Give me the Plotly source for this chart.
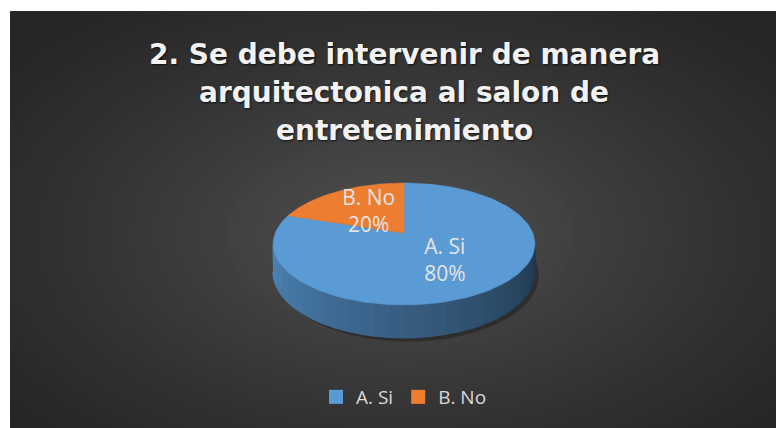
import numpy as np
import plotly.graph_objects as go

labels = ["A. Si", "B. No"]
values = [80, 20]
colors = ["#5b9bd5", "#ed7d31"]
title_lines = ["2. Se debe intervenir de manera", "arquitectonica al salon de", "entretenimiento"]

# the page body adds an 8px margin, so the figure is 8px smaller and the
# axes run in page pixel coordinates (8..784, 8..428)
OFF = 8
W, H = 784 - OFF, 428 - OFF

# pie geometry in pixels, with a simple perspective for the 3D look
CX, CY = 404, 233
A, B, K = 128.8, 59.0, 0.18
DEPTH = 27


def proj(phi_deg, r=1.0, drop=0.0):
    phi = np.radians(phi_deg)
    u = r * np.cos(phi)
    v = r * np.sin(phi)
    d = 1 + K * v
    return CX + A * u / d, CY + (-B * v + drop) / d


def shade(hex_color, f):
    h = hex_color.lstrip("#")
    rgb = [int(h[i:i + 2], 16) for i in (0, 2, 4)]
    return "rgb(%d,%d,%d)" % tuple(int(c * f) for c in rgb)


# slice angle ranges: first slice at 12 o'clock, clockwise
total = sum(values)
starts, ends = [], []
a = 90.0
for v in values:
    starts.append(a)
    a -= v / total * 360
    ends.append(a)


def slice_at(phi):
    for i in range(len(values)):
        lo, hi = ends[i], starts[i]
        p = phi
        while p > hi:
            p -= 360
        while p < lo:
            p += 360
        if lo <= p <= hi:
            return i
    return 0


fig = go.Figure()

# shadow under the pie
ang = np.linspace(0, 360, 200)
sx, sy = proj(ang, 1.0, DEPTH + 3)
fig.add_trace(go.Scatter(x=sx + 4, y=sy, fill="toself", mode="none",
                         fillcolor="rgba(0,0,0,0.28)", showlegend=False, hoverinfo="skip"))

# side wall (visible front part)
phi_l = 180 + np.degrees(np.arcsin(K))
phi_r = 360 - np.degrees(np.arcsin(K))
nseg = 30
edges = np.linspace(phi_l, phi_r, nseg + 1)
for j in range(nseg):
    seg = np.linspace(edges[j], edges[j + 1], 8)
    tx, ty = proj(seg)
    bx, by = proj(seg[::-1], 1.0, DEPTH)
    t = (j + 0.5) / nseg
    col = shade(colors[slice_at((edges[j] + edges[j + 1]) / 2)], 0.86 - 0.5 * t)
    fig.add_trace(go.Scatter(x=np.concatenate([tx, bx]), y=np.concatenate([ty, by]),
                             fill="toself", mode="lines", line=dict(color=col, width=1.2),
                             fillcolor=col, showlegend=False, hoverinfo="skip"))

# top surface wedges
for i in range(len(values)):
    arc = np.linspace(starts[i], ends[i], 120)
    ax_, ay_ = proj(arc)
    x = np.concatenate([[CX], ax_, [CX]])
    y = np.concatenate([[CY], ay_, [CY]])
    fig.add_trace(go.Scatter(x=x, y=y, fill="toself", mode="lines",
                             line=dict(color=colors[i], width=0.5),
                             fillcolor=colors[i], showlegend=False, hoverinfo="skip"))

# data labels
for i in range(len(values)):
    mid = (starts[i] + ends[i]) / 2
    lx, ly = proj(mid, 0.5, 3)
    fig.add_trace(go.Scatter(x=[lx], y=[ly], mode="text",
                             text=["%s<br>%d%%" % (labels[i], round(values[i] / total * 100))],
                             textfont=dict(family="Open Sans", size=21, color="#e4e4e4"),
                             textposition="middle center", showlegend=False, hoverinfo="skip"))

# legend entries
for i in range(len(values)):
    fig.add_trace(go.Scatter(x=[None], y=[None], mode="markers", name=labels[i],
                             marker=dict(symbol="square", size=14, color=colors[i])))

# background: radial gradient from concentric ellipses
shapes = [dict(type="rect", xref="x", yref="y", x0=10, y0=11, x1=784, y1=428,
               fillcolor="#262626", line=dict(width=0), layer="below")]
n = 45
for k in range(n):
    s = 1 - k / n
    c = int(38 + (82 - 38) * (1 - s) ** 1.2)
    shapes.append(dict(type="circle", xref="x", yref="y",
                       x0=400 - 520 * s, x1=400 + 520 * s, y0=235 - 300 * s, y1=235 + 300 * s,
                       fillcolor="rgb(%d,%d,%d)" % (c, c, c), line=dict(width=0), layer="below"))
shapes.append(dict(type="rect", xref="x", yref="y", x0=0, y0=0, x1=784, y1=11,
                   fillcolor="white", line=dict(width=0), layer="above"))
shapes.append(dict(type="rect", xref="x", yref="y", x0=0, y0=0, x1=10, y1=428,
                   fillcolor="white", line=dict(width=0), layer="above"))

annotations = []
for i, line in enumerate(title_lines):
    annotations.append(dict(text="<b>%s</b>" % line, x=404, y=54 + 38 * i, xref="x", yref="y",
                            showarrow=False, xanchor="center", yanchor="middle",
                            font=dict(family="DejaVu Sans", size=28, color="#f2f2f2",
                                      shadow="1px 1px 2px rgba(0,0,0,0.7)")))

fig.update_layout(
    width=W, height=H,
    margin=dict(l=0, r=0, t=0, b=0),
    paper_bgcolor="white", plot_bgcolor="white",
    xaxis=dict(range=[OFF, 784], visible=False, fixedrange=True),
    yaxis=dict(range=[428, OFF], visible=False, fixedrange=True),
    shapes=shapes,
    annotations=annotations,
    legend=dict(orientation="h", x=(404 - OFF) / W, xanchor="center",
                y=1 - (397 - OFF) / H, yanchor="middle",
                font=dict(family="Open Sans", size=19, color="#d9d9d9"),
                bgcolor="rgba(0,0,0,0)", itemwidth=30),
)

fig.write_html("out.html")
